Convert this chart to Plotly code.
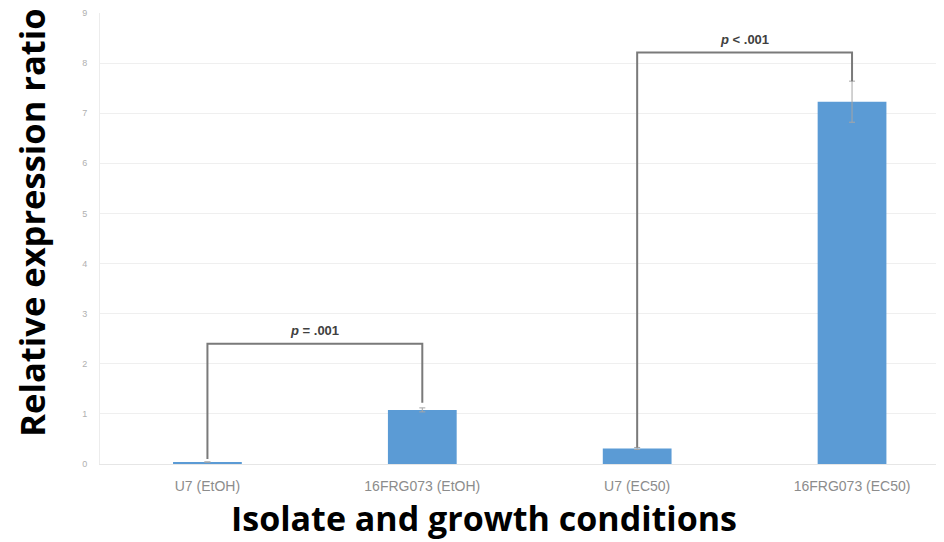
import plotly.graph_objects as go

categories = ["U7 (EtOH)", "16FRG073 (EtOH)", "U7 (EC50)", "16FRG073 (EC50)"]
ratios = [0.04, 1.08, 0.31, 7.23]
errors = [0.0, 0.04, 0.02, 0.41]

# significance brackets
bracket_left = ["U7 (EtOH)", "U7 (EC50)"]
bracket_right = ["16FRG073 (EtOH)", "16FRG073 (EC50)"]
bracket_left_foot = [0.10, 0.33]
bracket_top = [2.40, 8.21]
bracket_right_foot = [1.22, 7.64]
bracket_labels = ["<i>p</i> = .001", "<i>p</i> < .001"]
label_pos = [0.5, 2.5]

y_ticks = [0, 1, 2, 3, 4, 5, 6, 7, 8, 9]

fig = go.Figure()
fig.add_trace(go.Bar(
    x=categories, y=ratios,
    marker=dict(color="#5B9BD5", line=dict(width=0)),
    width=0.32,
    error_y=dict(type="data", array=errors, visible=True,
                 color="#a6a6a6", thickness=1, width=3),
    showlegend=False,
))

for i in range(len(bracket_left)):
    fig.add_trace(go.Scatter(
        x=[bracket_left[i], bracket_left[i], bracket_right[i], bracket_right[i]],
        y=[bracket_left_foot[i], bracket_top[i], bracket_top[i], bracket_right_foot[i]],
        mode="lines", line=dict(color="#7a7a7a", width=2),
        showlegend=False, hoverinfo="skip",
    ))
    fig.add_annotation(
        x=label_pos[i], y=bracket_top[i], xref="x", yref="y",
        text="<b>" + bracket_labels[i] + "</b>", showarrow=False,
        yanchor="bottom", yshift=4,
        font=dict(family="Liberation Sans", size=13, color="#404040"),
    )

fig.update_layout(
    width=936, height=534,
    margin=dict(l=91.5, r=0, t=5, b=78),
    paper_bgcolor="white", plot_bgcolor="white",
    font=dict(family="Open Sans, Liberation Sans", color="#999999"),
    bargap=0.68,
)
fig.update_xaxes(
    range=[-0.5, 3.428], showgrid=False,
    showline=True, linecolor="#e6e6e6", linewidth=1,
    tickfont=dict(family="Liberation Sans Narrow, Liberation Sans", size=14, color="#8c8c8c"),
    ticks="", ticklabelstandoff=9,
)
fig.update_yaxes(
    range=[0, 9], tickvals=y_ticks, showgrid=True, gridcolor="#efefef", gridwidth=1,
    showline=True, linecolor="#ececec", linewidth=1,
    tickfont=dict(family="Liberation Sans", size=9, color="#b0b0b0"),
    ticks="", ticklabelstandoff=10, zeroline=False, ticklabeloverflow="allow",
)

fig.add_annotation(
    text="<b>Relative expression ratio</b>", xref="paper", yref="paper",
    x=-0.0811, y=0.534, showarrow=False, textangle=-90,
    font=dict(family="Open Sans", size=34.5, color="black"),
    xanchor="center", yanchor="middle",
)
fig.add_annotation(
    text="<b>Isolate and growth conditions</b>", xref="paper", yref="paper",
    x=0.4553, y=0, yshift=-54, showarrow=False,
    font=dict(family="Open Sans", size=34, color="black"),
    xanchor="center", yanchor="middle",
)

fig.write_html("out.html")
